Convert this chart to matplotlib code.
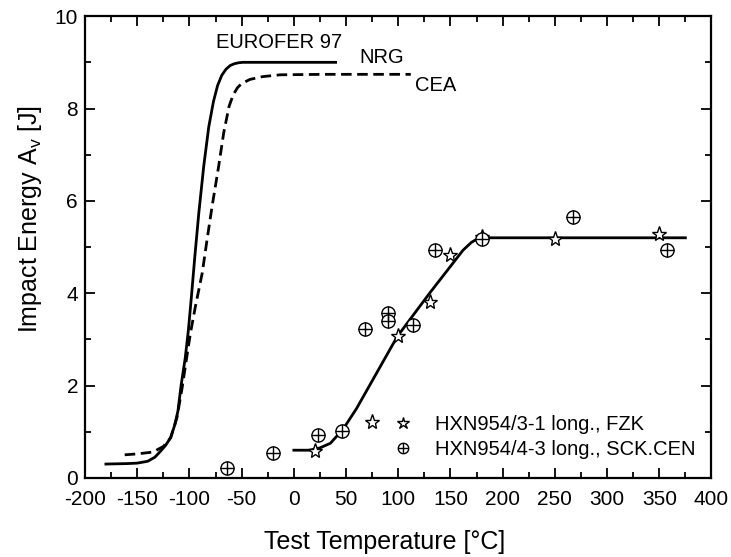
import matplotlib
matplotlib.use("Agg")
import matplotlib.pyplot as plt
from matplotlib.ticker import MultipleLocator
from matplotlib.legend_handler import HandlerTuple
from matplotlib.lines import Line2D

plt.rcParams['font.family'] = ['Liberation Sans', 'DejaVu Sans']
plt.rcParams['mathtext.fontset'] = 'custom'
plt.rcParams['mathtext.rm'] = 'Liberation Sans'
plt.rcParams['axes.unicode_minus'] = False

# EUROFER 97 (NRG) curve - solid
nrg_t = [-180, -160, -150, -140, -133, -128, -123, -118, -114, -111, -108, -104, -101, -98, -95, -91, -86.3, -81.5, -77, -73, -69, -65, -61, -57, -53, -49, 40]
nrg_e = [0.30, 0.31, 0.32, 0.36, 0.45, 0.57, 0.70, 0.87, 1.15, 1.45, 2.0, 2.6, 3.2, 3.95, 4.75, 5.74, 6.75, 7.6, 8.15, 8.5, 8.72, 8.85, 8.93, 8.97, 8.99, 9.0, 9.0]

# EUROFER 97 (CEA) curve - dashed
cea_t = [-162, -150, -135, -125, -118, -112, -107, -103, -99, -94.3, -87.8, -83.1, -78.3, -72, -67.2, -62, -58, -54, -50, -42, -30, -13, 30, 112]
cea_e = [0.50, 0.52, 0.56, 0.68, 0.87, 1.3, 1.95, 2.55, 3.14, 3.71, 4.43, 5.16, 5.88, 6.75, 7.47, 8.05, 8.3, 8.45, 8.54, 8.63, 8.69, 8.73, 8.74, 8.74]

# HXN954 fit curve
fit_t = [0, 15, 25, 35, 47, 60, 99, 130, 162, 170, 176, 185, 375]
fit_e = [0.6, 0.6, 0.65, 0.75, 1.05, 1.5, 3.06, 4.0, 4.93, 5.1, 5.18, 5.2, 5.2]

# HXN954/3-1 long., FZK (stars)
fzk_t = [20, 75, 100, 130, 150, 180, 250, 350]
fzk_e = [0.58, 1.2, 3.08, 3.8, 4.82, 5.22, 5.18, 5.28]

# HXN954/4-3 long., SCK.CEN (circled plus)
sck_t = [-64, -20, 23, 46, 68, 90, 90, 114, 135, 180, 267, 357]
sck_e = [0.21, 0.54, 0.93, 1.02, 3.22, 3.57, 3.40, 3.32, 4.93, 5.18, 5.64, 4.93]

fig = plt.figure(figsize=(7.31, 5.57), dpi=100)
ax = fig.add_axes([0.1163, 0.142, 0.857, 0.829])

ax.plot(nrg_t, nrg_e, color='black', lw=2.0, solid_joinstyle='round')
ax.plot(cea_t, cea_e, color='black', lw=2.0, ls=(0, (3.8, 2.0)))
ax.plot(fit_t, fit_e, color='black', lw=2.0, solid_joinstyle='round')

ax.plot(fzk_t, fzk_e, ls='none', marker='*', ms=11, mfc='white', mec='black', mew=1.0)
ax.plot(sck_t, sck_e, ls='none', marker='o', ms=9.5, mfc='white', mec='black', mew=1.0)
ax.plot(sck_t, sck_e, ls='none', marker='+', ms=9.5, mec='black', mew=1.0)

ax.text(-75, 9.42, 'EUROFER 97', fontsize=14.5, ha='left', va='center')
ax.text(63, 9.1, 'NRG', fontsize=14.5, ha='left', va='center')
ax.text(116, 8.5, 'CEA', fontsize=14.5, ha='left', va='center')

h_star = Line2D([], [], ls='none', marker='*', ms=9, mfc='white', mec='black', mew=1.0)
h_circ = Line2D([], [], ls='none', marker='o', ms=7.5, mfc='white', mec='black', mew=1.0)
h_plus = Line2D([], [], ls='none', marker='+', ms=7.5, mec='black', mew=1.0)
ax.legend([h_star, (h_circ, h_plus)],
          ['HXN954/3-1 long., FZK', 'HXN954/4-3 long., SCK.CEN'],
          handler_map={tuple: HandlerTuple(ndivide=1, pad=0)},
          loc='center left', bbox_to_anchor=(0.479, 0.0877), frameon=False,
          fontsize=14.5, handlelength=1.0, handletextpad=1.1, labelspacing=0.3,
          borderpad=0.4, borderaxespad=0.0)

ax.set_xlim(-200, 400)
ax.set_ylim(0, 10)
ax.xaxis.set_major_locator(MultipleLocator(50))
ax.xaxis.set_minor_locator(MultipleLocator(25))
ax.yaxis.set_major_locator(MultipleLocator(2))
ax.yaxis.set_minor_locator(MultipleLocator(1))
ax.tick_params(which='both', direction='in', top=True, right=True, width=1.3, labelsize=15)
ax.tick_params(which='major', length=7)
ax.tick_params(which='minor', length=4)
ax.tick_params(axis='x', which='major', pad=9)
ax.tick_params(axis='y', which='major', pad=5)
for s in ax.spines.values():
    s.set_linewidth(1.6)

ax.set_xlabel('Test Temperature [°C]', fontsize=18, labelpad=15)
ax.set_ylabel('Impact Energy A$_\\mathregular{v}$ [J]', fontsize=18, labelpad=8)
ax.xaxis.label.set_x(0.479)
ax.yaxis.label.set_y(0.56)

fig.savefig('out.png', dpi=100)
